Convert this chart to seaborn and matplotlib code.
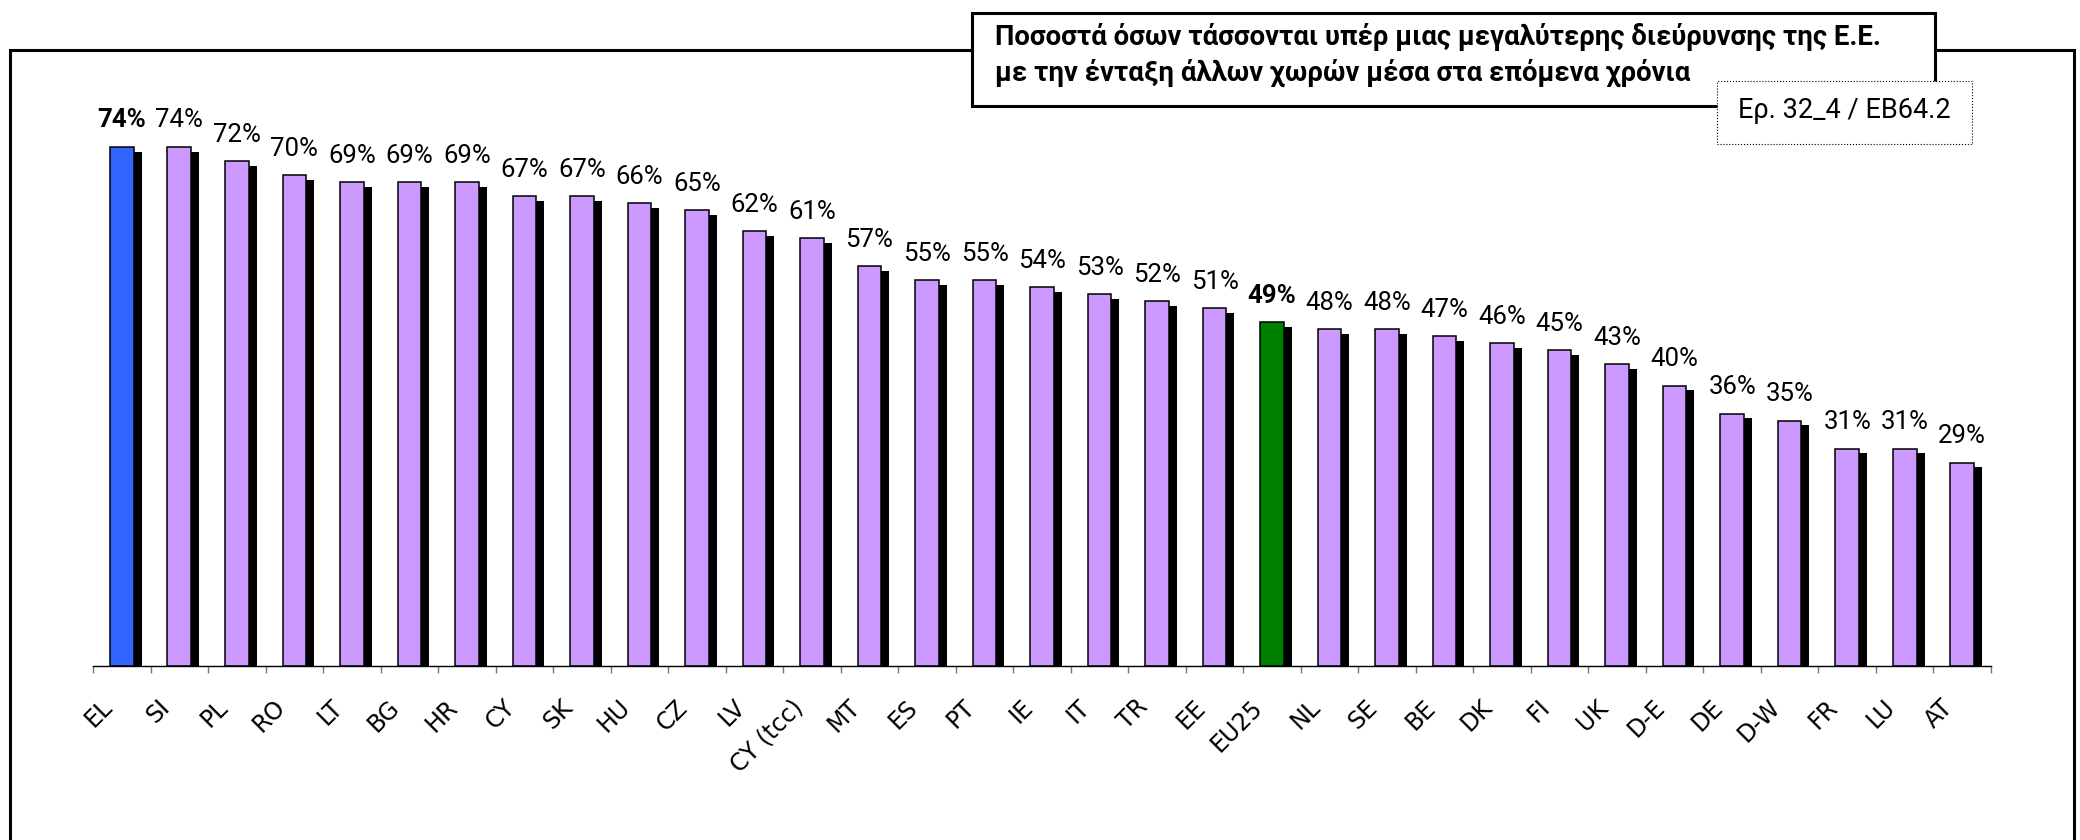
import numpy as np
import matplotlib.pyplot as plt
import matplotlib.transforms as mtransforms
from matplotlib.patches import Rectangle
import seaborn as sns

# data
countries = ["EL", "SI", "PL", "RO", "LT", "BG", "HR", "CY", "SK", "HU", "CZ", "LV",
             "CY (tcc)", "MT", "ES", "PT", "IE", "IT", "TR", "EE", "EU25", "NL", "SE",
             "BE", "DK", "FI", "UK", "D-E", "DE", "D-W", "FR", "LU", "AT"]
values = [74, 74, 72, 70, 69, 69, 69, 67, 67, 66, 65, 62,
          61, 57, 55, 55, 54, 53, 52, 51, 49, 48, 48,
          47, 46, 45, 43, 40, 36, 35, 31, 31, 29]
bold_labels = ["EL", "EU25"]
highlight_colors = {"EL": "#3366FF", "EU25": "#008000"}
default_color = "#CC99FF"

title_lines = ["Ποσοστά όσων τάσσονται υπέρ μιας μεγαλύτερης διεύρυνσης της Ε.Ε.",
               "με την ένταξη άλλων χωρών μέσα στα επόμενα χρόνια"]
source_note = "Ερ. 32_4 / EB64.2"

sns.set_theme(style="white")
plt.rcParams["font.family"] = ["DejaVu Sans"]
plt.rcParams["text.color"] = "black"
narrow = ["Roboto", "DejaVu Sans"]

W, H = 2080, 840
fig = plt.figure(figsize=(W / 100, H / 100), dpi=100)
ax = fig.add_axes([93 / W, 1 - 666 / H, (1991 - 93) / W, (666 - 105) / H])

palette = {c: highlight_colors.get(c, default_color) for c in countries}

# black "shadow" bars, shifted right/down
sns.barplot(x=countries, y=values, color="black", saturation=1, width=0.41,
            linewidth=0, errorbar=None, ax=ax)
shadow_shift = mtransforms.ScaledTranslation(8 / 100, -4.5 / 100, fig.dpi_scale_trans)
for p in ax.patches:
    p.set_transform(p.get_data_transform() + shadow_shift)

# front bars
sns.barplot(x=countries, y=values, hue=countries, palette=palette, saturation=1,
            width=0.41, edgecolor="black", linewidth=1.1, errorbar=None,
            legend=False, ax=ax)

for i, (c, v) in enumerate(zip(countries, values)):
    ax.annotate(f"{v}%", (i, v), xytext=(0, 10.5), textcoords="offset points",
                ha="center", va="bottom", fontsize=18.5, color="black",
                fontweight="bold" if c in bold_labels else "normal",
                family=narrow)

n = len(countries)
ax.set_ylim(0, 80)
ax.set_xlim(-0.5, n - 0.5)
ax.set_yticks([])
ax.set_xticks(range(n))
ax.set_xticklabels(countries, rotation=45, ha="right", va="center",
                   rotation_mode="anchor", fontsize=17, color="black")
ax.set_xticks(np.arange(-0.5, n), minor=True)
ax.tick_params(axis="x", which="major", length=0, pad=27, bottom=True)
ax.tick_params(axis="x", which="minor", length=5, width=1, color="#777777",
               direction="out", bottom=True)
ax.set_xlabel("")
ax.set_ylabel("")
for side in ["left", "right", "top"]:
    ax.spines[side].set_visible(False)
ax.spines["bottom"].set_color("black")
ax.spines["bottom"].set_linewidth(1)

label_shift = mtransforms.ScaledTranslation(-13 / 100, 0, fig.dpi_scale_trans)
for lbl in ax.get_xticklabels():
    lbl.set_transform(lbl.get_transform() + label_shift)

# outer frame
fig.add_artist(Rectangle((10 / W, -0.1), (2074 - 10) / W, 1.1 - 50 / H,
                         transform=fig.transFigure, fill=False, ec="black",
                         lw=2.2, zorder=1))
# title box
fig.add_artist(Rectangle((972 / W, 1 - 106 / H), (1935 - 972) / W, (106 - 13) / H,
                         transform=fig.transFigure, fc="white", ec="black",
                         lw=2.2, zorder=5))
fig.text(995 / W, 1 - 37 / H, title_lines[0], fontsize=19.8, fontweight="bold",
         ha="left", va="center", zorder=6, family=narrow)
fig.text(995 / W, 1 - 73 / H, title_lines[1], fontsize=19.8, fontweight="bold",
         ha="left", va="center", zorder=6, family=narrow)
# source box
fig.add_artist(Rectangle((1717 / W, 1 - 144 / H), (1972 - 1717) / W, (144 - 81) / H,
                         transform=fig.transFigure, fc="white", ec="black",
                         lw=0.8, ls=":", zorder=7))
fig.text(1844 / W, 1 - 111 / H, source_note, fontsize=19.5, ha="center",
         va="center", zorder=8, family=narrow)

fig.savefig("out.png", dpi=100)
